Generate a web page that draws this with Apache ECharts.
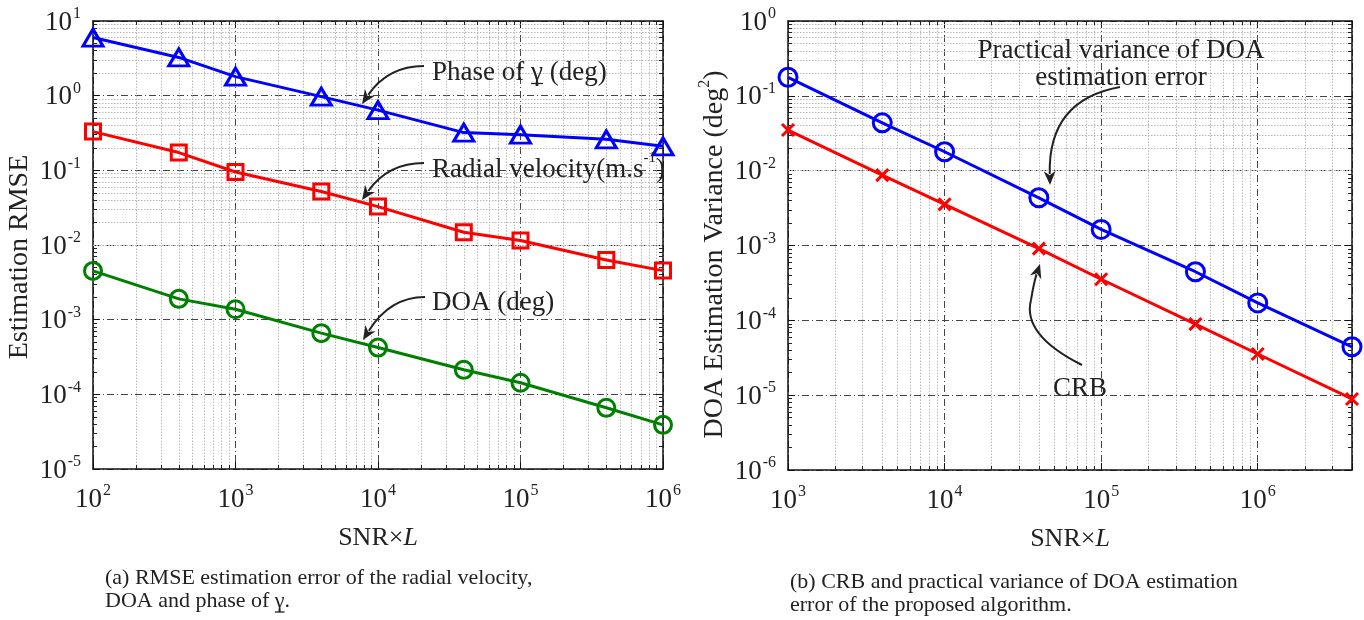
<!DOCTYPE html>
<html><head><meta charset="utf-8">
<script src="https://cdn.jsdelivr.net/npm/echarts@6/dist/echarts.min.js"></script>
<style>html,body{margin:0;padding:0;background:#fff}#c{width:1364px;height:620px}</style>
</head><body><div id="c"></div>
<script>
// ---- data ----
const snrA = [100, 400, 1000, 4000, 10000, 40000, 100000, 400000, 1000000];
const phaseGamma = [6.0, 3.25, 1.8, 0.97, 0.64, 0.32, 0.30, 0.26, 0.21];
const radialVel = [0.33, 0.173, 0.095, 0.052, 0.0327, 0.0148, 0.0115, 0.0063, 0.00454];
const doaRmse = [0.0045, 0.0019, 0.00138, 0.00066, 0.000423, 0.000213, 0.000143, 0.000066, 0.000039];
const snrB = [1000, 4000, 10000, 40000, 100000, 400000, 1000000, 4000000];
const practicalVar = [0.177, 0.0436, 0.0179, 0.00434, 0.00164, 0.000446, 0.000171, 0.0000443];
const crb = [0.0349, 0.00873, 0.00355, 0.00091, 0.000354, 0.0000891, 0.0000355, 0.0000089];
const xRangeA = [1e2, 1e6], yRangeA = [1e-5, 1e1];
const xRangeB = [1e3, 4e6], yRangeB = [1e-6, 1e0];

const FONT = "'Liberation Serif', 'DejaVu Serif', serif";
const TXT = '#222';

const gridA = { left: 93, top: 21, width: 570, height: 448, outerBoundsMode: 'none', containLabel: false };
const gridB = { left: 788, top: 21, width: 564, height: 449, outerBoundsMode: 'none', containLabel: false };

function minors(lo, hi) {
  const out = [];
  for (let d = lo; d < hi; d *= 10) {
    for (let k = 2; k <= 9; k++) { const v = d * k; if (v < hi * 0.9999) out.push(v); }
  }
  return out;
}
function zip(xs, ys) { return xs.map((x, i) => [x, ys[i]]); }

const labelRich = {
  b: { fontFamily: FONT, fontSize: 27, color: TXT, lineHeight: 30, verticalAlign: 'bottom' },
  s: { fontFamily: FONT, fontSize: 16, color: TXT, lineHeight: 30, verticalAlign: 'top', padding: [0, 0, 0, 1] }
};
function powFmt(v) {
  const e = Math.log10(v), r = Math.round(e);
  if (Math.abs(e - r) > 1e-6) return '';
  return '{b|10}{s|' + (r < 0 ? '-' + (-r) : r) + '}';
}
const majorSplit = { show: true, lineStyle: { color: '#444', width: 1, type: [7, 3, 1, 3] } };
const NAME_FS = 28;

function mainX(gi, range, name) {
  return {
    type: 'log', logBase: 10, gridIndex: gi, min: range[0], max: range[1], splitNumber: 4,
    position: 'bottom',
    axisLine: { show: true, onZero: false, lineStyle: { color: '#111', width: 1.5 } },
    axisTick: { show: true, inside: true, length: 7, lineStyle: { color: '#111' } },
    axisLabel: { formatter: powFmt, rich: labelRich, margin: 14, showMinLabel: true, showMaxLabel: true },
    splitLine: majorSplit,
    name: name, nameLocation: 'middle', nameGap: 56,
    nameTextStyle: { rich: { a: { fontFamily: FONT, fontSize: 26, color: TXT }, i: { fontFamily: FONT, fontSize: 26, fontStyle: 'italic', color: TXT } } }
  };
}
function topX(gi, range) {
  return {
    type: 'log', logBase: 10, gridIndex: gi, min: range[0], max: range[1], splitNumber: 4, position: 'top',
    axisLine: { show: true, onZero: false, lineStyle: { color: '#111', width: 1.5 } },
    axisTick: { show: true, inside: true, length: 7, lineStyle: { color: '#111' } },
    axisLabel: { show: false }, splitLine: { show: false }
  };
}
function mainY(gi, range, name, gap, shift) {
  return {
    type: 'log', logBase: 10, gridIndex: gi, min: range[0], max: range[1], splitNumber: 6,
    position: 'left',
    axisLine: { show: true, onZero: false, lineStyle: { color: '#111', width: 1.5 } },
    axisTick: { show: true, inside: true, length: 7, lineStyle: { color: '#111' } },
    axisLabel: { formatter: powFmt, rich: labelRich, margin: 12, showMinLabel: true, showMaxLabel: true },
    splitLine: majorSplit,
    name: name, nameLocation: 'middle', nameGap: gap, nameRotate: 90,
    nameTextStyle: { padding: [0, shift, 0, 0], rich: { a: { fontFamily: FONT, fontSize: NAME_FS, color: TXT, lineHeight: 32, verticalAlign: 'bottom' }, s: { fontFamily: FONT, fontSize: 16, color: TXT, lineHeight: 32, verticalAlign: 'top' } } }
  };
}
function rightY(gi, range) {
  return {
    type: 'log', logBase: 10, gridIndex: gi, min: range[0], max: range[1], splitNumber: 6, position: 'right',
    axisLine: { show: true, onZero: false, lineStyle: { color: '#111', width: 1.5 } },
    axisTick: { show: true, inside: true, length: 7, lineStyle: { color: '#111' } },
    axisLabel: { show: false }, splitLine: { show: false }
  };
}
// minor grid lines (dotted) + minor ticks (short solid segments on all four sides)
function minorSeries(xi, yi, xr, yr, grid) {
  const mx = minors(xr[0], xr[1]), my = minors(yr[0], yr[1]);
  const data = mx.map(v => ({ xAxis: v })).concat(my.map(v => ({ yAxis: v })));
  const decY = grid.height / Math.log10(yr[1] / yr[0]);
  const decX = grid.width / Math.log10(xr[1] / xr[0]);
  const TL = 4;
  const fy = Math.pow(10, TL / decY), fx = Math.pow(10, TL / decX);
  const ticks = [];
  mx.forEach(v => {
    ticks.push([{ coord: [v, yr[0]] }, { coord: [v, yr[0] * fy] }]);
    ticks.push([{ coord: [v, yr[1]] }, { coord: [v, yr[1] / fy] }]);
  });
  my.forEach(v => {
    ticks.push([{ coord: [xr[0], v] }, { coord: [xr[0] * fx, v] }]);
    ticks.push([{ coord: [xr[1], v] }, { coord: [xr[1] / fx, v] }]);
  });
  return [{
    type: 'line', xAxisIndex: xi, yAxisIndex: yi, data: [], silent: true, z: 1,
    markLine: { silent: true, symbol: ['none', 'none'], label: { show: false }, animation: false,
      lineStyle: { type: [1.5, 1.5], color: '#b8b8b8', width: 1 }, emphasis: { disabled: true }, data: data }
  }, {
    type: 'line', xAxisIndex: xi, yAxisIndex: yi, data: [], silent: true, z: 3,
    markLine: { silent: true, symbol: ['none', 'none'], label: { show: false }, animation: false,
      lineStyle: { type: 'solid', color: '#222', width: 1 }, emphasis: { disabled: true }, data: ticks }
  }];
}
function dataSeries(xi, yi, xs, ys, color, symbol, size) {
  return {
    type: 'line', xAxisIndex: xi, yAxisIndex: yi, data: zip(xs, ys), z: 5,
    symbol: symbol, symbolSize: size, showAllSymbol: true,
    lineStyle: { color: color, width: 3 },
    itemStyle: { color: 'rgba(255,255,255,0)', borderColor: color, borderWidth: 3 },
    emphasis: { disabled: true }, animation: false
  };
}

const crossPath = 'path://M0,0L10,10M10,0L0,10';

const option = {
  backgroundColor: '#fff',
  animation: false,
  grid: [gridA, gridB],
  xAxis: [
    mainX(0, xRangeA, '{a|SNR×}{i|L}'), topX(0, xRangeA),
    mainX(1, xRangeB, '{a|SNR×}{i|L}'), topX(1, xRangeB)
  ],
  yAxis: [
    mainY(0, yRangeA, '{a|Estimation RMSE}', 59, 24), rightY(0, yRangeA),
    mainY(1, yRangeB, '{a|DOA Estimation Variance (deg}{s|2}{a|)}', 59, 18), rightY(1, yRangeB)
  ],
  series: [].concat(
    minorSeries(0, 0, xRangeA, yRangeA, gridA),
    minorSeries(2, 2, xRangeB, yRangeB, gridB),
    [
      dataSeries(0, 0, snrA, phaseGamma, '#0000ff', 'triangle', [20, 17]),
      dataSeries(0, 0, snrA, radialVel, '#ff0000', 'rect', 15),
      dataSeries(0, 0, snrA, doaRmse, '#008000', 'circle', 17),
      dataSeries(2, 2, snrB, practicalVar, '#0000ff', 'circle', 18),
      Object.assign(dataSeries(2, 2, snrB, crb, '#ff0000', crossPath, 12), { itemStyle: { color: 'rgba(0,0,0,0)', borderColor: '#ff0000', borderWidth: 3 } })
    ])
};

// ---- annotations (arrows & labels) ----
function arrow(x0, y0, cx, cy, x1, y1) {
  const dx = x1 - cx, dy = y1 - cy, L = Math.hypot(dx, dy), ux = dx / L, uy = dy / L;
  const hl = 14, hw = 6;
  const bx = x1 - ux * hl, by = y1 - uy * hl;
  return [
    { type: 'bezierCurve', shape: { x1: x0, y1: y0, cpx1: cx, cpy1: cy, x2: bx + ux * 3, y2: by + uy * 3 },
      style: { stroke: '#222', lineWidth: 2, fill: null }, z: 20 },
    { type: 'polygon', shape: { points: [[x1, y1], [bx - uy * hw, by + ux * hw], [x1 - ux * hl * 0.7, y1 - uy * hl * 0.7], [bx + uy * hw, by - ux * hw]] },
      style: { fill: '#222' }, z: 20 }
  ];
}
const ANN_FS = 27, CAP_FS = 22;
function txt(x, y, rich, text, align) {
  return { type: 'text', x: x, y: y, z: 20,
    style: { text: text, rich: rich, fontFamily: FONT, fill: TXT, align: align || 'left', verticalAlign: 'middle' } };
}
const annRich = {
  a: { fontFamily: FONT, fontSize: ANN_FS, color: TXT, lineHeight: 32, verticalAlign: 'bottom' },
  s: { fontFamily: FONT, fontSize: 15, color: TXT, lineHeight: 32, verticalAlign: 'top' }
};
const capRich = { a: { fontFamily: FONT, fontSize: CAP_FS, color: TXT, lineHeight: 24 } };

const mctx = document.createElement('canvas').getContext('2d');
function tw(s, fs) { mctx.font = fs + 'px ' + FONT; return mctx.measureText(s).width; }
function underline(x, y, w) {
  return { type: 'line', shape: { x1: x, y1: y, x2: x + w, y2: y }, style: { stroke: TXT, lineWidth: 1.3 }, z: 20 };
}
const g1x = 432 + tw('Phase of ', ANN_FS), g1w = tw('γ', ANN_FS);
const g2x = 105 + tw('DOA and phase of ', CAP_FS), g2w = tw('γ', CAP_FS);

const graphics = [].concat(
  arrow(424, 66, 388, 66, 362, 104),
  arrow(424, 163, 388, 163, 362, 200),
  arrow(425, 297, 390, 297, 363, 340),
  arrow(1120, 87, 1048, 100, 1050, 185),
  [{ type: 'bezierCurve', shape: { x1: 1082, y1: 365, cpx1: 1022, cpy1: 335, x2: 1031, y2: 300 }, style: { stroke: '#222', lineWidth: 2, fill: null }, z: 20 }],
  arrow(1031, 300, 1034, 282, 1040, 264),
  [
    txt(432, 70, annRich, '{a|Phase of γ (deg)}'),
    underline(g1x, 70 + ANN_FS * 0.5, g1w),
    txt(432, 167, annRich, '{a|Radial velocity(m.s}{s|-1}{a|)}'),
    txt(432, 300, annRich, '{a|DOA (deg)}'),
    txt(1121, 48, annRich, '{a|Practical variance of DOA}', 'center'),
    txt(1121, 75, annRich, '{a|estimation error}', 'center'),
    txt(1080, 386, annRich, '{a|CRB}', 'center'),
    txt(105, 578, capRich, '{a|(a) RMSE estimation error of the radial velocity,}'),
    txt(105, 601, capRich, '{a|DOA and phase of γ.}'),
    underline(g2x, 601 + CAP_FS * 0.5, g2w),
    txt(790, 582, capRich, '{a|(b) CRB and practical variance of DOA estimation}'),
    txt(790, 605, capRich, '{a|error of the proposed algorithm.}')
  ]
);
option.graphic = { elements: graphics };

const chart = echarts.init(document.getElementById('c'), null, { renderer: 'canvas' });
chart.setOption(option);
</script></body></html>
